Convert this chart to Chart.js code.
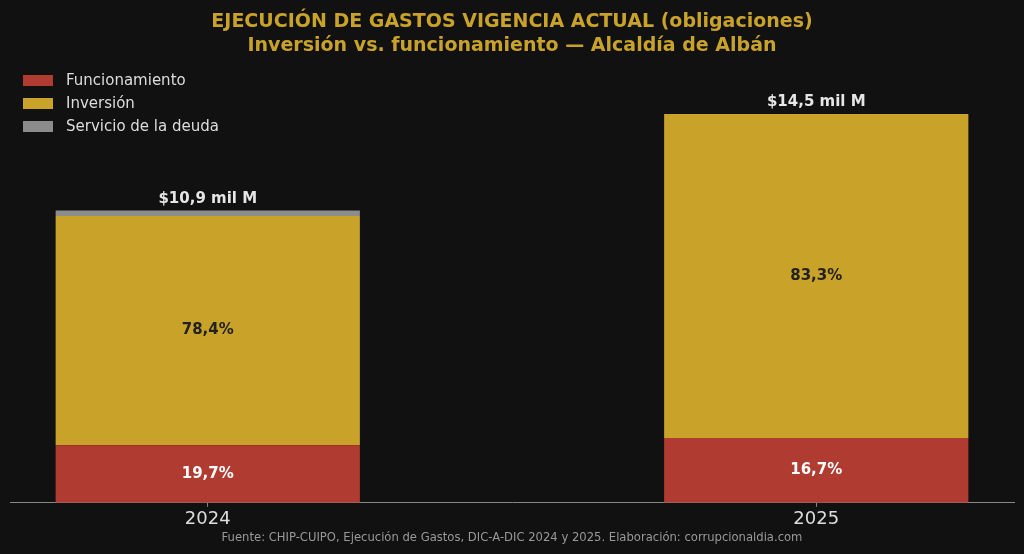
<!DOCTYPE html>
<html>
<head>
<meta charset="utf-8">
<script src="https://cdn.jsdelivr.net/npm/chart.js@4/dist/chart.umd.min.js"></script>
<style>
  html, body { margin: 0; padding: 0; background: #111111; }
  #wrap { width: 1024px; height: 554px; }
</style>
</head>
<body>
<div id="wrap"><canvas id="myChart" width="1024" height="554"></canvas></div>
<script>
// values in "mil M" (miles de millones de pesos)
const years = ['2024', '2025'];
const funcionamiento = [2.15, 2.42];
const inversion = [8.55, 12.08];
const deuda = [0.20, 0.00];

const titleLines = [
  'EJECUCIÓN DE GASTOS VIGENCIA ACTUAL (obligaciones)',
  'Inversión vs. funcionamiento — Alcaldía de Albán'
];
const sourceText = 'Fuente: CHIP-CUIPO, Ejecución de Gastos, DIC-A-DIC 2024 y 2025. Elaboración: corrupcionaldia.com';

const FONT = "'DejaVu Sans', sans-serif";
const toPoints = arr => arr.map((v, i) => ({ x: i, y: v }));
const totals = years.map((_, i) => funcionamiento[i] + inversion[i] + deuda[i]);
const fmt = v => v.toFixed(1).replace('.', ',');

// percentages inside segments + totals on top
const labelPlugin = {
  id: 'barLabels',
  afterDatasetsDraw(chart) {
    const ctx = chart.ctx;
    ctx.save();
    ctx.textAlign = 'center';
    ctx.textBaseline = 'middle';
    ctx.font = 'bold 15px ' + FONT;
    chart.data.datasets.forEach((ds, di) => {
      const meta = chart.getDatasetMeta(di);
      meta.data.forEach((bar, i) => {
        const pct = ds.data[i].y / totals[i] * 100;
        if (pct < 5) return;
        ctx.fillStyle = ds.labelColor;
        ctx.fillText(fmt(pct) + '%', bar.x, (bar.y + bar.base) / 2);
      });
    });
    const last = chart.getDatasetMeta(chart.data.datasets.length - 1);
    ctx.textBaseline = 'bottom';
    ctx.fillStyle = '#e6e6e6';
    last.data.forEach((bar, i) => {
      const top = chart.scales.y.getPixelForValue(totals[i]);
      ctx.fillText('$' + fmt(totals[i]) + ' mil M', bar.x, top - 4);
    });
    ctx.restore();
  }
};

// vertical legend at upper left, matplotlib style
const legendPlugin = {
  id: 'boxLegend',
  afterDraw(chart) {
    const ctx = chart.ctx;
    ctx.save();
    ctx.font = '15px ' + FONT;
    ctx.textBaseline = 'middle';
    ctx.textAlign = 'left';
    chart.data.datasets.forEach((ds, di) => {
      const y = 81 + di * 23;
      ctx.fillStyle = ds.backgroundColor;
      ctx.fillRect(23, y - 6, 30, 11);
      ctx.fillStyle = '#dddddd';
      ctx.fillText(ds.label, 66, y);
    });
    ctx.restore();
  }
};

const ctx = document.getElementById('myChart').getContext('2d');
const myChart = new Chart(ctx, {
  type: 'bar',
  data: {
    datasets: [
      { label: 'Funcionamiento', data: toPoints(funcionamiento), backgroundColor: '#b03b30', labelColor: '#ffffff' },
      { label: 'Inversión', data: toPoints(inversion), backgroundColor: '#c9a22a', labelColor: '#222222' },
      { label: 'Servicio de la deuda', data: toPoints(deuda), backgroundColor: '#8c8c8c', labelColor: '#222222' }
    ]
  },
  options: {
    responsive: false,
    animation: false,
    barPercentage: 0.5,
    categoryPercentage: 1.0,
    layout: { padding: { left: 10, right: 10, top: 0, bottom: 0 } },
    scales: {
      x: {
        type: 'linear',
        stacked: true,
        offset: false,
        min: -0.325,
        max: 1.325,
        afterBuildTicks: scale => { scale.ticks = years.map((_, i) => ({ value: i })); },
        ticks: {
          color: '#dddddd',
          font: { family: FONT, size: 18 },
          padding: 2,
          callback: v => years[v]
        },
        grid: { offset: false, drawOnChartArea: false, drawTicks: true, tickLength: 4, color: '#888888' },
        border: { color: '#888888', width: 1 }
      },
      y: {
        stacked: true,
        display: false,
        min: 0,
        max: 16
      }
    },
    plugins: {
      legend: { display: false },
      tooltip: { enabled: false },
      title: {
        display: true,
        text: titleLines,
        color: '#c9a22a',
        font: { family: FONT, size: 19, weight: 'bold', lineHeight: 1.26 },
        padding: { top: 10, bottom: 16 }
      },
      subtitle: {
        display: true,
        position: 'bottom',
        text: sourceText,
        color: '#999999',
        font: { family: FONT, size: 11.6, lineHeight: 1.0 },
        padding: { top: 0, bottom: 10 }
      }
    }
  },
  plugins: [labelPlugin, legendPlugin]
});
</script>
</body>
</html>
